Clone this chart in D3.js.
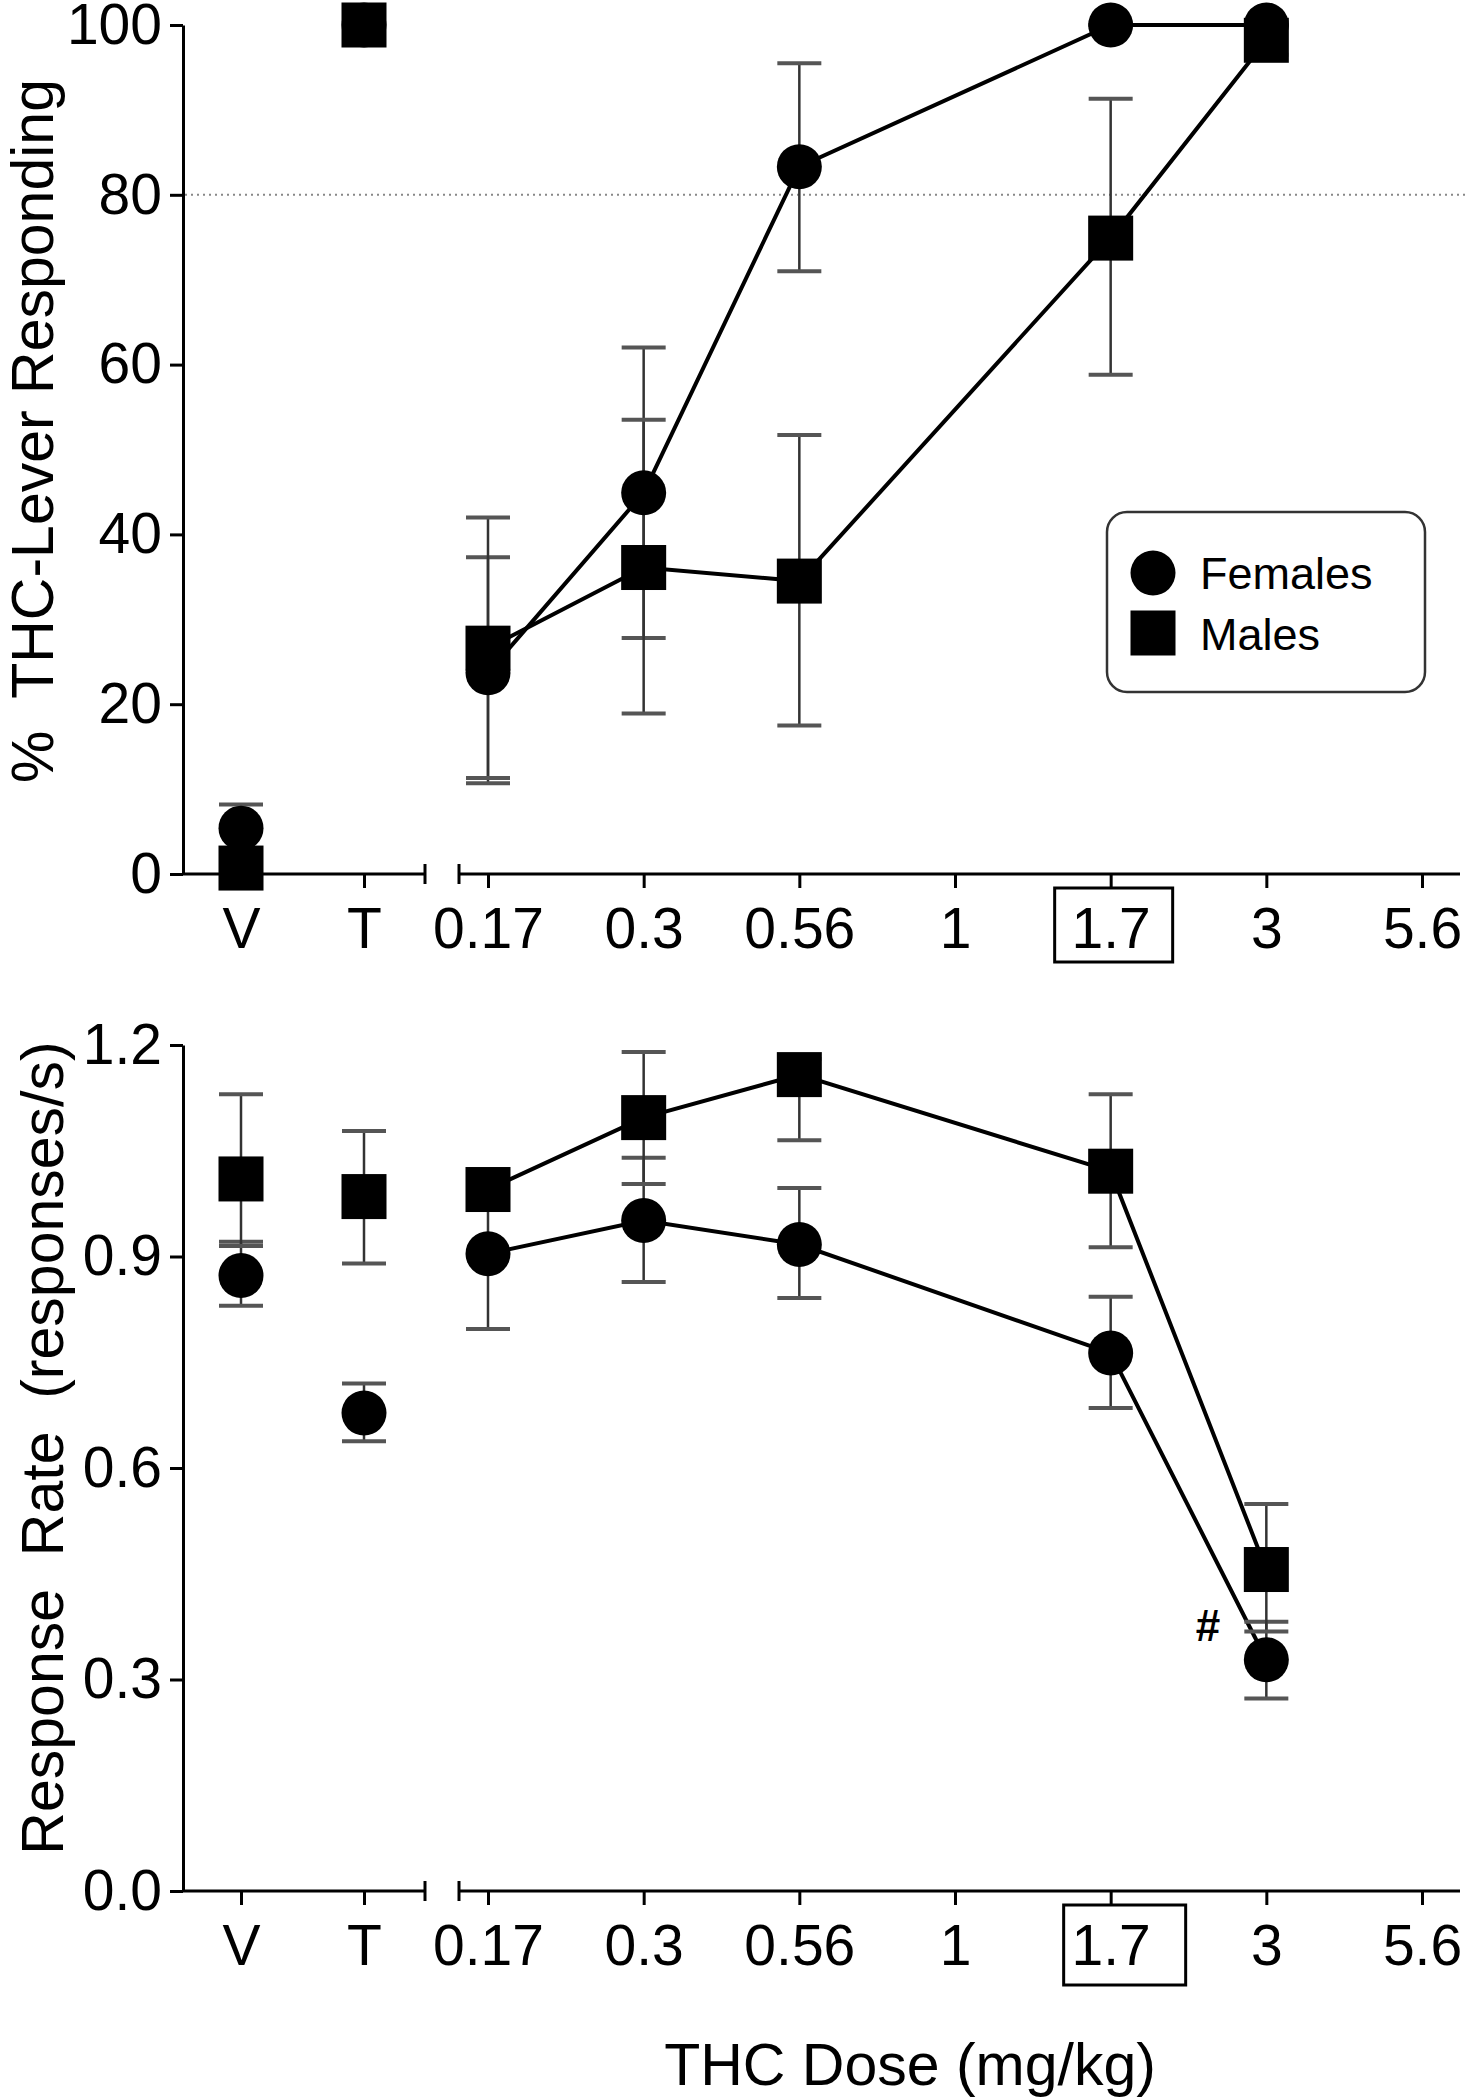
<!DOCTYPE html>
<html>
<head>
<meta charset="utf-8">
<script src="https://cdn.jsdelivr.net/npm/d3@7"></script>
<style>
  body { margin: 0; background: #fff; }
  text { font-family: "Liberation Sans", Arial, sans-serif; fill: #000; }
</style>
</head>
<body>
<svg id="chart"></svg>
<script>
// categories
var leftCats = ["V", "T"];
var doseCats = ["0.17", "0.3", "0.56", "1", "1.7", "3", "5.6"];

// % THC-lever responding (mean, low, high)
var femPct = [
  {c: "V", m: 5.4, lo: 3.0, hi: 8.2},
  {c: "T", m: 100, lo: 100, hi: 100},
  {c: "0.17", m: 23.7, lo: 10.7, hi: 37.3},
  {c: "0.3", m: 44.9, lo: 27.8, hi: 62.0},
  {c: "0.56", m: 83.3, lo: 71.0, hi: 95.5},
  {c: "1.7", m: 100, lo: 100, hi: 100},
  {c: "3", m: 100, lo: 100, hi: 100}
];
var malePct = [
  {c: "V", m: 0.7, lo: 0, hi: 1.4},
  {c: "T", m: 100, lo: 100, hi: 100},
  {c: "0.17", m: 26.6, lo: 11.3, hi: 42.0},
  {c: "0.3", m: 36.1, lo: 18.9, hi: 53.5},
  {c: "0.56", m: 34.5, lo: 17.5, hi: 51.7},
  {c: "1.7", m: 74.9, lo: 58.8, hi: 91.3},
  {c: "3", m: 98.2, lo: 96.5, hi: 99.9}
];

// response rate (responses/s)
var femRate = [
  {c: "V", m: 0.873, lo: 0.830, hi: 0.921},
  {c: "T", m: 0.678, lo: 0.638, hi: 0.720},
  {c: "0.17", m: 0.904, lo: 0.797, hi: 1.000},
  {c: "0.3", m: 0.951, lo: 0.864, hi: 1.040},
  {c: "0.56", m: 0.917, lo: 0.841, hi: 0.997},
  {c: "1.7", m: 0.763, lo: 0.685, hi: 0.843},
  {c: "3", m: 0.328, lo: 0.273, hi: 0.382}
];
var maleRate = [
  {c: "V", m: 1.010, lo: 0.915, hi: 1.130},
  {c: "T", m: 0.985, lo: 0.890, hi: 1.078},
  {c: "0.17", m: 0.995, lo: 0.970, hi: 1.020},
  {c: "0.3", m: 1.097, lo: 1.003, hi: 1.190},
  {c: "0.56", m: 1.158, lo: 1.065, hi: 1.180},
  {c: "1.7", m: 1.021, lo: 0.913, hi: 1.130},
  {c: "3", m: 0.456, lo: 0.368, hi: 0.549}
];

var pctTicks = [0, 20, 40, 60, 80, 100];
var rateTicks = [0, 0.3, 0.6, 0.9, 1.2];

var W = 1465, H = 2098;
var svg = d3.select("#chart").attr("width", W).attr("height", H);

var axisX0 = 183;
var xLeft = d3.scalePoint().domain(leftCats).range([241, 364]);
var xDose = d3.scalePoint().domain(doseCats).range([488, 1422]);
function xPos(c) { return leftCats.indexOf(c) >= 0 ? xLeft(c) : xDose(c); }

var markR = 22.5;

function drawPanel(opt) {
  var y = d3.scaleLinear().domain(opt.domain).range(opt.range);
  var g = svg.append("g");
  var base = opt.range[0];

  if (opt.refLine != null) {
    g.append("line")
      .attr("x1", axisX0 + 2).attr("x2", W)
      .attr("y1", y(opt.refLine)).attr("y2", y(opt.refLine))
      .attr("stroke", "#888").attr("stroke-width", 2)
      .attr("stroke-dasharray", "2,4");
  }

  // y axis
  var yAxis = d3.axisLeft(y).tickValues(opt.ticks).tickFormat(opt.fmt)
    .tickSize(13).tickSizeOuter(0).tickPadding(8);
  var ya = g.append("g").attr("transform", "translate(" + axisX0 + ",0)").call(yAxis);
  ya.select(".domain").attr("stroke", "#000").attr("stroke-width", 3);
  ya.selectAll(".tick line").attr("stroke", "#000").attr("stroke-width", 3);
  ya.selectAll(".tick text").attr("font-size", 57).attr("fill", "#000")
    .attr("font-family", "Liberation Sans, Arial, sans-serif");

  // x axis, two segments with a break
  [d3.axisBottom(xLeft), d3.axisBottom(xDose)].forEach(function(ax) {
    var xa = g.append("g").attr("transform", "translate(0," + base + ")")
      .call(ax.tickSize(14).tickSizeOuter(0).tickPadding(0));
    xa.select(".domain").remove();
    xa.selectAll(".tick line").attr("stroke", "#000").attr("stroke-width", 3);
    xa.selectAll(".tick text").attr("font-size", 57).attr("fill", "#000")
      .attr("font-family", "Liberation Sans, Arial, sans-serif")
      .attr("dy", null).attr("y", 74);
  });
  var segs = [[axisX0, 425], [459, 1460]];
  segs.forEach(function(s) {
    g.append("line").attr("x1", s[0]).attr("x2", s[1])
      .attr("y1", base).attr("y2", base)
      .attr("stroke", "#000").attr("stroke-width", 3);
  });
  [425, 459].forEach(function(bx) {
    g.append("line").attr("x1", bx).attr("x2", bx)
      .attr("y1", base - 10).attr("y2", base + 10)
      .attr("stroke", "#000").attr("stroke-width", 3);
  });

  // box around the training dose label
  g.append("rect")
    .attr("x", xDose("1.7") - opt.boxW / 2 + opt.boxDx).attr("y", base + 14)
    .attr("width", opt.boxW).attr("height", opt.boxH)
    .attr("fill", "none").attr("stroke", "#000").attr("stroke-width", 3);

  var line = d3.line().x(function(d) { return xPos(d.c); }).y(function(d) { return y(d.m); });
  [opt.fem, opt.male].forEach(function(s) {
    g.append("path")
      .datum(s.filter(function(d) { return doseCats.indexOf(d.c) >= 0; }))
      .attr("d", line).attr("fill", "none")
      .attr("stroke", "#000").attr("stroke-width", 4);
  });

  // error bars
  [opt.fem, opt.male].forEach(function(s) {
    var eb = g.append("g").selectAll("g").data(s).join("g");
    eb.append("line")
      .attr("x1", function(d) { return xPos(d.c); })
      .attr("x2", function(d) { return xPos(d.c); })
      .attr("y1", function(d) { return y(d.lo); })
      .attr("y2", function(d) { return y(d.hi); })
      .attr("stroke", "#333").attr("stroke-width", 2.5);
    ["lo", "hi"].forEach(function(k) {
      eb.append("line")
        .attr("x1", function(d) { return xPos(d.c) - 22; })
        .attr("x2", function(d) { return xPos(d.c) + 22; })
        .attr("y1", function(d) { return y(d[k]); })
        .attr("y2", function(d) { return y(d[k]); })
        .attr("stroke", "#555").attr("stroke-width", 4);
    });
  });

  // markers
  g.append("g").selectAll("rect").data(opt.male).join("rect")
    .attr("x", function(d) { return xPos(d.c) - markR; })
    .attr("y", function(d) { return y(d.m) - markR; })
    .attr("width", markR * 2).attr("height", markR * 2)
    .attr("fill", "#000");
  g.append("g").selectAll("circle").data(opt.fem).join("circle")
    .attr("cx", function(d) { return xPos(d.c); })
    .attr("cy", function(d) { return y(d.m); })
    .attr("r", markR).attr("fill", "#000");

  // y title
  g.append("text")
    .attr("transform", "translate(" + opt.titleX + "," + opt.titleY + ") rotate(-90)")
    .attr("text-anchor", "middle").attr("font-size", 59)
    .attr("xml:space", "preserve")
    .text(opt.title);

  return y;
}

drawPanel({
  domain: [0, 100], range: [874, 25], ticks: pctTicks, fmt: d3.format("d"),
  fem: femPct, male: malePct, refLine: 80,
  boxW: 118, boxH: 74, boxDx: 3,
  title: "%  THC-Lever Responding", titleX: 53, titleY: 431
});

var yRate = drawPanel({
  domain: [0, 1.2], range: [1891, 1045], ticks: rateTicks, fmt: d3.format(".1f"),
  fem: femRate, male: maleRate, refLine: null,
  boxW: 122, boxH: 80, boxDx: 14,
  title: "Response  Rate  (responses/s)", titleX: 63, titleY: 1448
});

// significance mark
svg.append("text").attr("x", 1208).attr("y", yRate(0.355))
  .attr("text-anchor", "middle").attr("font-size", 44).attr("font-weight", "bold")
  .text("#");

// legend
var leg = svg.append("g");
leg.append("rect").attr("x", 1107).attr("y", 512).attr("width", 318).attr("height", 180)
  .attr("rx", 20).attr("fill", "#fff").attr("stroke", "#333").attr("stroke-width", 2.5);
leg.append("circle").attr("cx", 1153).attr("cy", 573).attr("r", markR).attr("fill", "#000");
leg.append("rect").attr("x", 1153 - markR).attr("y", 633 - markR)
  .attr("width", markR * 2).attr("height", markR * 2).attr("fill", "#000");
leg.append("text").attr("x", 1200).attr("y", 589).attr("font-size", 45).text("Females");
leg.append("text").attr("x", 1200).attr("y", 650).attr("font-size", 45).text("Males");

// x title
svg.append("text").attr("x", 910).attr("y", 2085).attr("text-anchor", "middle")
  .attr("font-size", 59).text("THC Dose (mg/kg)");
</script>
</body>
</html>
